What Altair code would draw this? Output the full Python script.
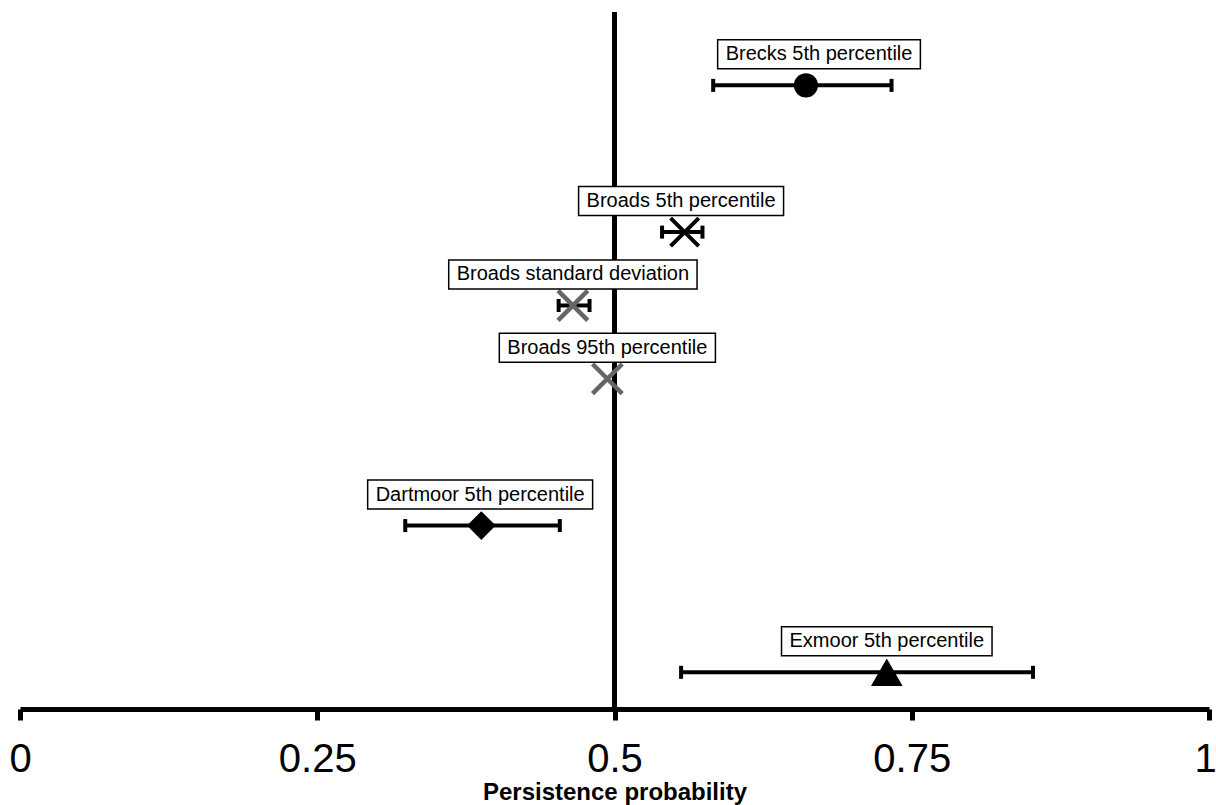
import altair as alt
import pandas as pd

# Persistence probability estimates with their uncertainty intervals
labels = [
    "Brecks 5th percentile",
    "Broads 5th percentile",
    "Broads standard deviation",
    "Broads 95th percentile",
    "Dartmoor 5th percentile",
    "Exmoor 5th percentile",
]
rows = [0, 2, 3, 4, 6, 8]
prob = [0.661, 0.559, 0.465, 0.494, 0.388, 0.729]
lower = [0.583, 0.540, 0.453, None, 0.324, 0.556]
upper = [0.733, 0.574, 0.479, None, 0.454, 0.852]
label_x = [0.672, 0.556, 0.465, 0.494, 0.387, 0.729]
marker = ["circle", "x", "x_grey", "x_grey", "diamond", "triangle"]

ticks = [0, 0.25, 0.5, 0.75, 1]

# geometry of the plotting area (pixels)
PLOT_W, PLOT_H = 1189, 697
Y_DOMAIN = [-1, 8.5]
PX_PER_ROW = PLOT_H / (Y_DOMAIN[1] - Y_DOMAIN[0])

LABEL_FONT = 20
LABEL_PAD = 8
BOX_H = 29
LABEL_RISE = 31

# approximate Arial advance widths (em) for sizing the label boxes
_W = {
    " ": 0.278, "5": 0.556, "9": 0.556, "B": 0.667, "D": 0.722, "E": 0.667,
    "a": 0.556, "b": 0.556, "c": 0.5, "d": 0.556, "e": 0.556, "h": 0.556,
    "i": 0.222, "k": 0.5, "l": 0.222, "m": 0.833, "n": 0.556, "o": 0.556,
    "p": 0.556, "r": 0.333, "s": 0.5, "t": 0.278, "v": 0.5, "x": 0.5,
}


def text_px(s):
    return sum(_W.get(ch, 0.556) for ch in s) * LABEL_FONT


df = pd.DataFrame({
    "label": labels,
    "row": rows,
    "prob": prob,
    "lower": lower,
    "upper": upper,
    "label_x": label_x,
    "marker": marker,
})
half_w = [(text_px(s) / 2 + LABEL_PAD) / PLOT_W for s in labels]
df["box_x"] = df["label_x"] - half_w
df["box_x2"] = df["label_x"] + half_w
df["label_row"] = df["row"] - LABEL_RISE / PX_PER_ROW
df["box_y"] = df["label_row"] - (BOX_H / 2) / PX_PER_ROW
df["box_y2"] = df["label_row"] + (BOX_H / 2) / PX_PER_ROW

xs = alt.Scale(domain=[0, 1], nice=False, zero=False)
ys = alt.Scale(domain=Y_DOMAIN, reverse=True, nice=False, zero=False)

TITLE = "Persistence probability"
x_axis = alt.Axis(
    values=ticks,
    labelExpr="datum.value + ''",
    grid=False,
    domainColor="black",
    domainWidth=5,
    tickColor="black",
    tickWidth=5,
    tickSize=11,
    labelFont="Liberation Sans",
    labelFontSize=40,
    labelColor="black",
    labelPadding=19,
    labelFlush=False,
    labelBound=False,
    # nudge the last label so it stays inside the canvas
    labelOffset={"condition": {"test": "datum.value === 1", "value": -4}, "value": 0},
    titleFont="Liberation Sans",
    titleFontSize=24,
    titleFontWeight="bold",
    titleColor="black",
    titlePadding=1,
)


def xq(field):
    return alt.X(f"{field}:Q", scale=xs, axis=x_axis, title=TITLE)


def yq(field):
    return alt.Y(f"{field}:Q", scale=ys, axis=None)


base = alt.Chart(df)

centre_line = alt.Chart(pd.DataFrame({"prob": [0.5]})).mark_rule(
    color="black", strokeWidth=5, opacity=1
).encode(x=xq("prob"))

with_err = base.transform_filter("isValid(datum.lower)")

err_line = with_err.mark_rule(color="black", strokeWidth=4, opacity=1).encode(
    x=xq("lower"), x2="upper:Q", y=yq("row")
)
cap_lo = with_err.mark_tick(
    orient="vertical", color="black", size=13, thickness=4, opacity=1
).encode(x=xq("lower"), y=yq("row"))
cap_hi = with_err.mark_tick(
    orient="vertical", color="black", size=13, thickness=4, opacity=1
).encode(x=xq("upper"), y=yq("row"))

X_PATH = "M-1,-1L1,1M-1,1L1,-1"


def markers(kind):
    return base.transform_filter(alt.datum.marker == kind)


circle = markers("circle").mark_point(
    shape="circle", filled=True, color="black", size=580, opacity=1
).encode(x=xq("prob"), y=yq("row"))
cross_black = markers("x").mark_point(
    shape=X_PATH, filled=False, color="black", size=790, strokeWidth=4, opacity=1
).encode(x=xq("prob"), y=yq("row"))
cross_grey = markers("x_grey").mark_point(
    shape=X_PATH, filled=False, color="#666666", size=880, strokeWidth=4.5, opacity=1
).encode(x=xq("prob"), y=yq("row"))
diamond = markers("diamond").mark_point(
    shape="diamond", filled=True, color="black", size=820, opacity=1
).encode(x=xq("prob"), y=yq("row"))
triangle = markers("triangle").mark_point(
    shape="triangle-up", filled=True, color="black", size=1000, opacity=1
).encode(x=xq("prob"), y=yq("row"))

boxes = base.mark_rect(fill="white", stroke="black", strokeWidth=1.5).encode(
    x=xq("box_x"),
    x2="box_x2:Q",
    y=yq("box_y"),
    y2="box_y2:Q",
)
texts = base.mark_text(
    font="Liberation Sans", fontSize=LABEL_FONT, color="black",
    align="center", baseline="middle",
).encode(
    x=xq("label_x"),
    y=yq("label_row"),
    text="label:N",
)

chart = (
    alt.layer(
        centre_line, err_line, cap_lo, cap_hi,
        circle, cross_black, cross_grey, diamond, triangle,
        boxes, texts,
    )
    .properties(
        width=PLOT_W,
        height=PLOT_H,
        autosize=alt.AutoSizeParams(type="none"),
        padding={"left": 20, "top": 12, "right": 7, "bottom": 96},
        background="white",
    )
    .configure_view(stroke=None)
)

chart.save("out.html", embed_options={"renderer": "svg", "actions": False})
